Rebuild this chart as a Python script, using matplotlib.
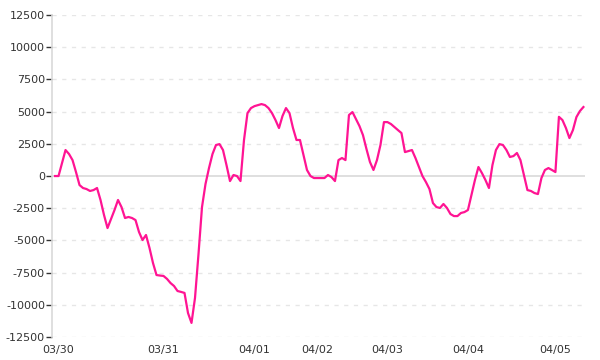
import numpy as np
import matplotlib
matplotlib.use('Agg')
from matplotlib import pyplot as plt

# hourly samples, values
vals = [0, 0, 1010, 2020, 1710, 1240, 300, -700, -930, -1010,
        -1160, -1090, -930, -1860, -3030, -4040, -3340, -2640, -1860, -2410,
        -3260, -3180, -3260, -3420, -4350, -4970, -4580, -5590, -6760, -7690,
        -7730, -7760, -7990, -8310, -8540, -8930, -9000, -9080, -10640, -11410,
        -9470, -6060, -2410, -620, 620, 1710, 2410, 2480, 2020, 850,
        -390, 80, 0, -390, 2790, 4890, 5280, 5430, 5510, 5590,
        5510, 5280, 4890, 4350, 3730, 4660, 5280, 4890, 3730, 2800,
        2800, 1630, 470, 0, -155, -155, -155, -155, 80, -80,
        -390, 1240, 1400, 1240, 4740, 4970, 4430, 3880, 3180, 2100,
        1090, 470, 1240, 2410, 4190, 4190, 4040, 3800, 3570, 3340,
        1860, 1940, 2020, 1400, 700, 0, -470, -1010, -2100, -2410,
        -2480, -2170, -2480, -2950, -3110, -3110, -2870, -2800, -2640, -1480,
        -310, 700, 230, -310, -930, 850, 2020, 2480, 2410, 2020,
        1480, 1550, 1790, 1240, 80, -1090, -1160, -1320, -1400, -155,
        470, 620, 470, 310, 4600, 4350, 3730, 2950, 3570, 4580,
        5050, 5360]

day_idx = [1, 31, 57, 75, 95, 118, 143]
day_labels = ['03/30', '03/31', '04/01', '04/02', '04/03', '04/04', '04/05']
yticks = [-12500, -10000, -7500, -5000, -2500, 0, 2500, 5000, 7500, 10000, 12500]

x = np.arange(len(vals))

fig = plt.figure(figsize=(6, 3.6), dpi=100)
ax = fig.add_axes([0.0867, 0.064, 0.888, 0.894])

#grid lines
for t in yticks:
    if t == 0:
        continue
    ax.axhline(t, color='#e6e6e6', lw=1, ls=(0, (3, 4)), zorder=1)
ax.axhline(0, color='#d9d9d9', lw=1.2, zorder=2)

ax.plot(x, vals, color='#ff1493', lw=1.6, zorder=3)

ax.set_xlim(-0.86, 151.4)
ax.set_ylim(-12500, 12500)

ax.set_yticks(yticks)
ax.set_yticklabels([str(t) for t in yticks])
ax.set_xticks(day_idx)
ax.set_xticklabels(day_labels)

for s in ['top', 'right', 'bottom']:
    ax.spines[s].set_visible(False)
ax.spines['left'].set_color('#d9d9d9')
ax.spines['left'].set_linewidth(1.2)

ax.tick_params(axis='y', length=4, width=1, color='#333333', labelsize=8,
               labelcolor='#333333', pad=1)
ax.tick_params(axis='x', length=0, labelsize=8, labelcolor='#333333', pad=6)

fig.savefig('out.png', dpi=100)
